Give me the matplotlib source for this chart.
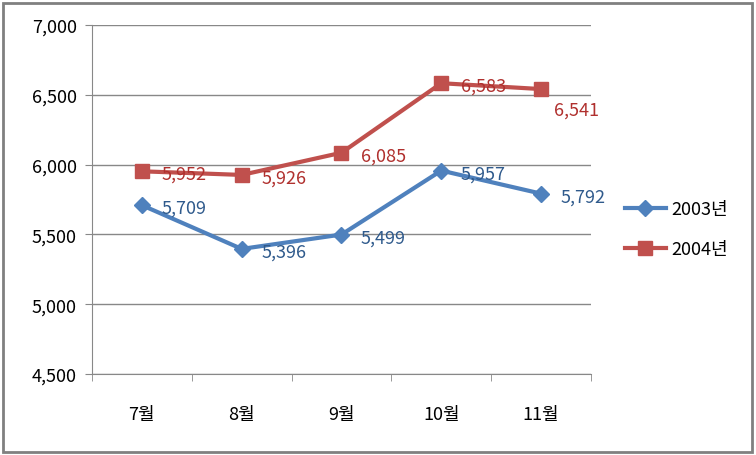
import matplotlib.pyplot as plt
from matplotlib.patches import Rectangle

plt.rcParams['font.family'] = ['Noto Sans CJK KR', 'DejaVu Sans']

months = ['7월', '8월', '9월', '10월', '11월']
sales_2003 = [5709, 5396, 5499, 5957, 5792]
sales_2004 = [5952, 5926, 6085, 6583, 6541]
series_names = ['2003년', '2004년']

blue = '#4F81BD'
red = '#C0504D'
blue_txt = '#2F5A8C'
red_txt = '#B0302E'

fig = plt.figure(figsize=(7.56, 4.56), dpi=100)
ax = fig.add_axes([92 / 756, 1 - 375 / 456, (591 - 92) / 756, (375 - 26) / 456])

x = range(len(months))
ax.plot(x, sales_2003, color=blue, lw=3, marker='D', ms=8.5, label=series_names[0], zorder=3)
ax.plot(x, sales_2004, color=red, lw=3, marker='s', ms=10, label=series_names[1], zorder=3)

def add_labels(vals, color, special=None):
    special = special or {}
    for i, v in enumerate(vals):
        dx, dy = special.get(i, (14, -2))
        ax.annotate(f'{v:,}', xy=(i, v), xytext=(dx, dy), textcoords='offset points',
                    ha='left', va='center', fontsize=13, color=color, zorder=4)

add_labels(sales_2003, blue_txt)
add_labels(sales_2004, red_txt, special={4: (9, -15)})

ax.set_xlim(-0.5, len(months) - 0.5)
ax.set_ylim(4500, 7000)
ax.set_yticks(range(4500, 7001, 500))
ax.set_yticklabels([f'{t:,}' for t in range(4500, 7001, 500)], fontsize=13)
ax.set_xticks(list(x))
ax.set_xticklabels(months, fontsize=13)
ax.set_xticks([i + 0.5 for i in range(-1, len(months))], minor=True)
ax.tick_params(axis='x', which='major', length=0, pad=22)
ax.tick_params(axis='x', which='minor', length=5, color='#888888')
ax.tick_params(axis='y', length=5, color='#888888', pad=6)

ax.grid(axis='y', color='#888888', lw=1)
ax.set_axisbelow(True)
for s in ['top', 'right']:
    ax.spines[s].set_visible(False)
for s in ['left', 'bottom']:
    ax.spines[s].set_color('#888888')

ax.legend(loc='center left', bbox_to_anchor=(1.035, 0.415), frameon=False, fontsize=13,
          handlelength=2.3, labelspacing=1.2, handletextpad=0.3)

fig.patches.append(Rectangle((3 / 756, 3 / 456), 749 / 756, 449 / 456, transform=fig.transFigure,
                             fill=False, edgecolor='#808080', lw=2))

fig.savefig('out.png', dpi=100)
